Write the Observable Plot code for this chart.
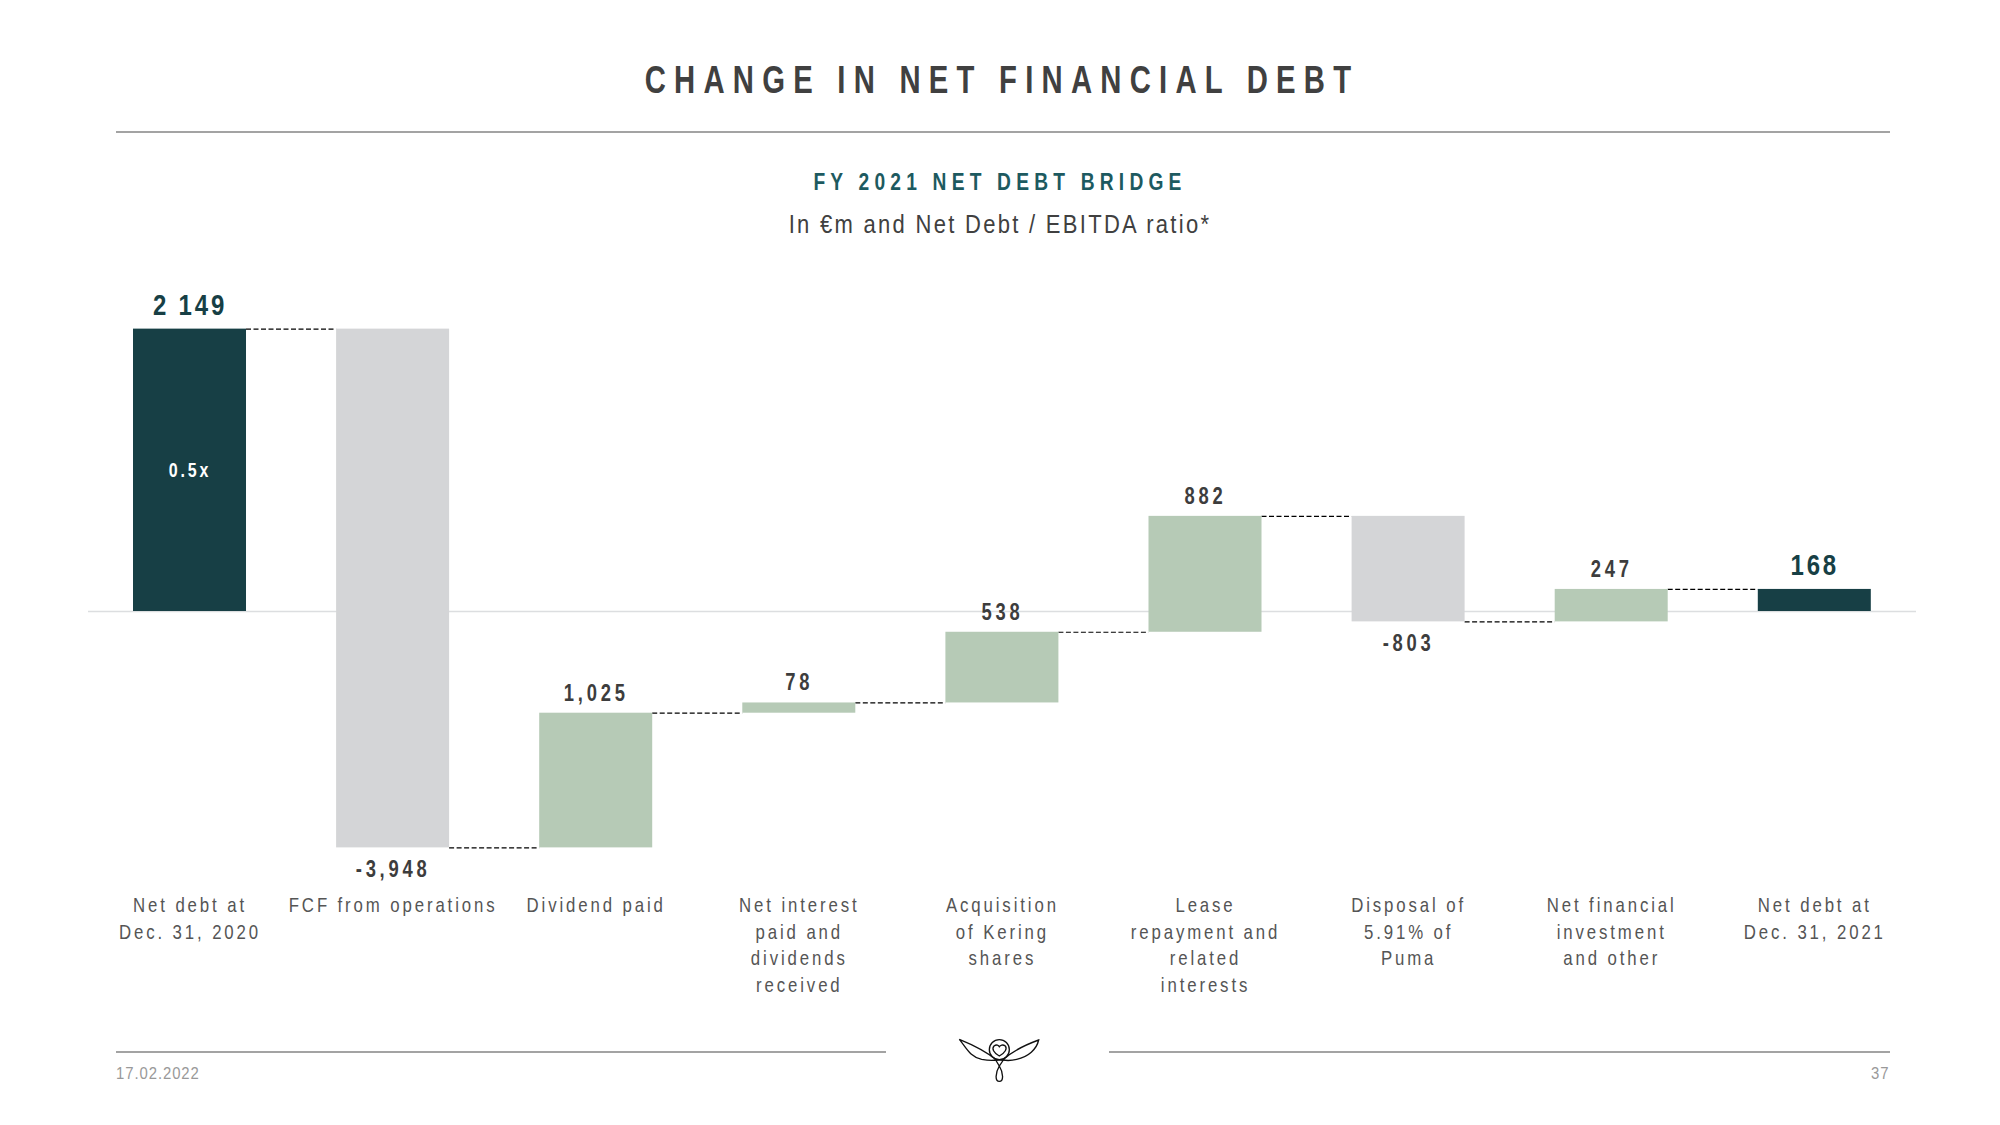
<!DOCTYPE html>
<html>
<head>
<meta charset="utf-8">
<script src="https://cdn.jsdelivr.net/npm/d3@7"></script>
<script src="https://cdn.jsdelivr.net/npm/@observablehq/plot@0.6"></script>
<style>
html,body{margin:0;padding:0;background:#fff;width:2000px;height:1125px;overflow:hidden;}
body{position:relative;font-family:"Liberation Sans",Arial,sans-serif;}
.t{position:absolute;white-space:nowrap;line-height:1;}
.c{left:0;width:2000px;text-align:center;}
.r{position:absolute;height:2px;background:#a3a3a3;}
#title{left:2px;top:60px;font-size:39px;font-weight:700;letter-spacing:11px;color:#404040;transform:scaleX(.75);}
#sub{top:170px;font-size:24px;font-weight:700;letter-spacing:6.5px;color:#1d5a60;transform:scaleX(.8);}
#note{top:212px;font-size:25px;letter-spacing:2.6px;color:#404040;transform:scaleX(.88);}
#date{left:116px;top:1066px;font-size:16px;letter-spacing:1px;color:#999;transform:scaleX(.93);transform-origin:left;}
#page{left:1871px;top:1066px;font-size:16px;letter-spacing:1px;color:#999;transform:scaleX(.93);transform-origin:left;}
#chart{position:absolute;left:0;top:260px;}
#chart g.val text{letter-spacing:4.7px;}
#chart g.tot text{letter-spacing:3.5px;}
#chart g.ratio text{letter-spacing:3.6px;}
#chart g.cat text{letter-spacing:3.6px;}
#logo{position:absolute;left:860px;top:1010px;}
</style>
</head>
<body>
<div class="t c" id="title">CHANGE IN NET FINANCIAL DEBT</div>
<div class="r" style="left:116px;width:1774px;top:131px"></div>
<div class="t c" id="sub">FY 2021 NET DEBT BRIDGE</div>
<div class="t c" id="note">In €m and Net Debt / EBITDA ratio*</div>
<div id="chart"></div>
<div class="r" style="left:116px;width:770px;top:1051px"></div>
<div class="r" style="left:1109px;width:781px;top:1051px"></div>
<svg id="logo" width="280" height="100" viewBox="0 0 840 300" fill="none" stroke="#111" stroke-width="4">
  <path d="M298 88 C320 115 330 140 365 148 C385 152 400 152 410 150 C385 130 340 105 298 88Z"/>
  <path d="M536 90 C530 118 505 140 470 148 C455 152 440 152 428 150 C455 125 495 105 536 90Z"/>
  <circle cx="418" cy="119" r="30"/>
  <path d="M418 138 C400 128 395 116 402 108 C410 102 416 106 418 110 C421 106 428 102 436 108 C442 116 436 128 418 138Z"/>
  <path d="M407 150 L430 150 L418 168Z"/>
  <path d="M418 168 C405 190 405 214 418 214 C431 214 431 190 418 168Z"/>
</svg>
<div class="t" id="date">17.02.2022</div>
<div class="t" id="page">37</div>
<script>
const categories = [
  "Net debt at\nDec. 31, 2020",
  "FCF from operations",
  "Dividend paid",
  "Net interest\npaid and\ndividends\nreceived",
  "Acquisition\nof Kering\nshares",
  "Lease\nrepayment and\nrelated\ninterests",
  "Disposal of\n5.91% of\nPuma",
  "Net financial\ninvestment\nand other",
  "Net debt at\nDec. 31, 2021"
];
const values = [2149, -3948, 1025, 78, 538, 882, -803, 247, 168];
const kinds = ["total","down","up","up","up","up","down","up","total"];
const valueLabels = ["2 149","-3,948","1,025","78","538","882","-803","247","168"];
const ratioLabel = "0.5x";

// Waterfall levels: each step starts where the previous one ended
let level = 0;
const rows = categories.map((category, i) => {
  const total = kinds[i] === "total";
  const start = total ? 0 : level;
  const end = total ? values[i] : level + values[i];
  level = end;
  return {category, kind: kinds[i], start, end, label: valueLabels[i], value: values[i]};
});
const links = rows.slice(0, -1).map((d, i) => ({a: d.category, b: rows[i + 1].category, y: d.end}));

const above = rows.filter(d => d.kind === "up");
const below = rows.filter(d => d.kind === "down");
const totals = rows.filter(d => d.kind === "total");

const xRange = [133, 1870.8];
const innerPad = 0.4436;
const barWidth = (xRange[1] - xRange[0]) / (categories.length - innerPad) * (1 - innerPad);

const plot = Plot.plot({
  width: 2000,
  height: 780,
  marginLeft: 88,
  marginRight: 84,
  marginTop: 0,
  marginBottom: 147,
  style: {background: "transparent", fontFamily: '"Liberation Sans",Arial,sans-serif'},
  x: {type: "band", domain: categories, range: xRange, paddingInner: innerPad, paddingOuter: 0, round: false, axis: null},
  y: {domain: [-2000, 2500], range: [613.8, 22.5], axis: null},
  color: {domain: ["total","down","up"], range: ["#173f45","#d4d5d7","#b6cab6"]},
  marks: [
    Plot.ruleY([0], {stroke: "#dcdee0", strokeWidth: 1.5}),
    Plot.ruleY(links, {y: "y", x1: "a", x2: "b", insetLeft: barWidth, insetRight: barWidth, stroke: "#000", strokeWidth: 1.2, strokeDasharray: "5 2.5"}),
    Plot.barY(rows, {x: "category", y1: "start", y2: "end", fill: "kind"}),
    Plot.text(above, {x: "category", y: "end", text: "label", dy: -20, fontSize: 23, fontWeight: 700, fill: "#3d3d3d", className: "val"}),
    Plot.text(below, {x: "category", y: "end", text: "label", dy: 22, fontSize: 23, fontWeight: 700, fill: "#3d3d3d", className: "val"}),
    Plot.text(totals, {x: "category", y: "end", text: "label", dy: -24, fontSize: 30, fontWeight: 700, fill: "#173f45", className: "tot"}),
    Plot.text(rows.slice(0, 1), {x: "category", y: d => d.end / 2, text: () => ratioLabel, fontSize: 20, fontWeight: 700, fill: "#fff", className: "ratio"}),
    Plot.axisX({anchor: "bottom", tickSize: 0, tickPadding: 0, lineHeight: 1.26, fontSize: 21, fill: "#555", label: null, className: "cat"})
  ]
});
document.getElementById("chart").appendChild(plot);

// The reference type is a condensed face: squeeze the glyphs horizontally
const squeeze = 0.8;
plot.querySelectorAll("text").forEach(t => {
  const spans = t.querySelectorAll("tspan");
  (spans.length ? [...spans] : [t]).forEach(el => {
    el.setAttribute("textLength", el.getComputedTextLength() * squeeze);
    el.setAttribute("lengthAdjust", "spacingAndGlyphs");
  });
});
</script>
</body>
</html>
